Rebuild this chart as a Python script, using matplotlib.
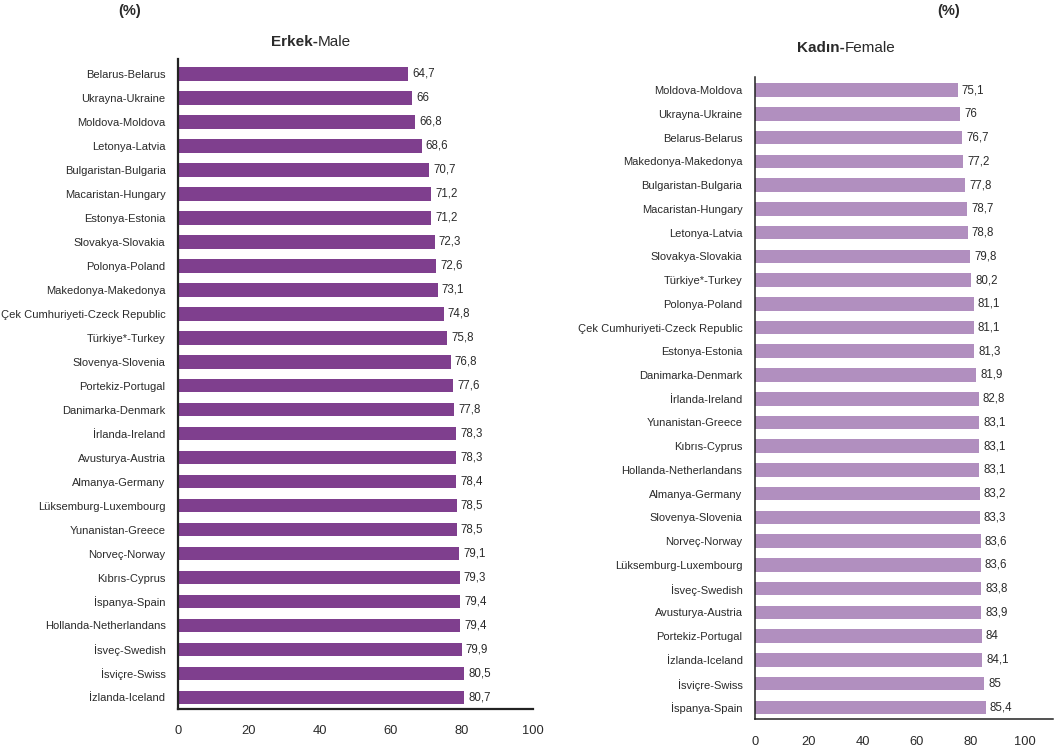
import numpy as np
import matplotlib
matplotlib.use('Agg')
import matplotlib.pyplot as plt

plt.rcParams['font.family'] = ['Liberation Sans', 'DejaVu Sans']

erkek_ulke = ['Belarus-Belarus', 'Ukrayna-Ukraine', 'Moldova-Moldova', 'Letonya-Latvia',
              'Bulgaristan-Bulgaria', 'Macaristan-Hungary', 'Estonya-Estonia', 'Slovakya-Slovakia',
              'Polonya-Poland', 'Makedonya-Makedonya', 'Çek Cumhuriyeti-Czeck Republic',
              'Türkiye*-Turkey', 'Slovenya-Slovenia', 'Portekiz-Portugal', 'Danimarka-Denmark',
              'İrlanda-Ireland', 'Avusturya-Austria', 'Almanya-Germany', 'Lüksemburg-Luxembourg',
              'Yunanistan-Greece', 'Norveç-Norway', 'Kıbrıs-Cyprus', 'İspanya-Spain',
              'Hollanda-Netherlandans', 'İsveç-Swedish', 'İsviçre-Swiss', 'İzlanda-Iceland']
erkek_deger = [64.7, 66, 66.8, 68.6, 70.7, 71.2, 71.2, 72.3, 72.6, 73.1, 74.8, 75.8, 76.8, 77.6,
               77.8, 78.3, 78.3, 78.4, 78.5, 78.5, 79.1, 79.3, 79.4, 79.4, 79.9, 80.5, 80.7]

kadin_ulke = ['Moldova-Moldova', 'Ukrayna-Ukraine', 'Belarus-Belarus', 'Makedonya-Makedonya',
              'Bulgaristan-Bulgaria', 'Macaristan-Hungary', 'Letonya-Latvia', 'Slovakya-Slovakia',
              'Türkiye*-Turkey', 'Polonya-Poland', 'Çek Cumhuriyeti-Czeck Republic',
              'Estonya-Estonia', 'Danimarka-Denmark', 'İrlanda-Ireland', 'Yunanistan-Greece',
              'Kıbrıs-Cyprus', 'Hollanda-Netherlandans', 'Almanya-Germany', 'Slovenya-Slovenia',
              'Norveç-Norway', 'Lüksemburg-Luxembourg', 'İsveç-Swedish', 'Avusturya-Austria',
              'Portekiz-Portugal', 'İzlanda-Iceland', 'İsviçre-Swiss', 'İspanya-Spain']
kadin_deger = [75.1, 76, 76.7, 77.2, 77.8, 78.7, 78.8, 79.8, 80.2, 81.1, 81.1, 81.3, 81.9, 82.8,
               83.1, 83.1, 83.1, 83.2, 83.3, 83.6, 83.6, 83.8, 83.9, 84, 84.1, 85, 85.4]

eksen_x = [0, 20, 40, 60, 80, 100]

W, H = 1054, 748
fig = plt.figure(figsize=(W / 100, H / 100), dpi=100)
yazi = '#2a2a2a'


def px_ax(x0, y0, x1, y1):
    return fig.add_axes([x0 / W, 1 - y1 / H, (x1 - x0) / W, (y1 - y0) / H])


def ciz(ax, ulke, deger, renk, xmax, ylim, lw, bosluk):
    y = np.arange(len(ulke))
    ax.barh(y, deger, height=0.57, color=renk)
    ax.set_yticks(y)
    ax.set_yticklabels(ulke, fontsize=8, color=yazi)
    ax.set_xticks(eksen_x)
    ax.set_xticklabels([str(v) for v in eksen_x], fontsize=9.3, color=yazi)
    ax.set_xlim(0, xmax)
    ax.set_ylim(*ylim)
    ax.tick_params(axis='y', length=0, pad=9)
    ax.tick_params(axis='x', length=0, pad=12)
    for s in ['top', 'right']:
        ax.spines[s].set_visible(False)
    for s in ['left', 'bottom']:
        ax.spines[s].set_color('#222222')
        ax.spines[s].set_linewidth(lw)
    for yi, v in zip(y, deger):
        ax.text(v + bosluk, yi, f'{v:g}'.replace('.', ','),
                va='center', ha='left', fontsize=8.3, color=yazi)


ax1 = px_ax(178, 59, 533, 708.7)
ciz(ax1, erkek_ulke, erkek_deger, '#7F3F8E', 100, (26.47, -0.62), 1.6, 1.2)

ax2 = px_ax(755, 77, 1053, 719.3)
ciz(ax2, kadin_ulke, kadin_deger, '#B18FBF', 110.4, (26.5, -0.55), 1.1, 1.5)

# basliklar
fig.text(318 / W, 1 - 41.5 / H, 'Erkek-', ha='right', va='center', fontsize=11, fontweight='bold', color=yazi)
fig.text(318 / W, 1 - 41.5 / H, 'Male', ha='left', va='center', fontsize=11, color=yazi)
fig.text(845 / W, 1 - 48 / H, 'Kadın-', ha='right', va='center', fontsize=11, fontweight='bold', color=yazi)
fig.text(845 / W, 1 - 48 / H, 'Female', ha='left', va='center', fontsize=11, color=yazi)
fig.text(130 / W, 1 - 11.5 / H, '(%)', ha='center', va='center', fontsize=10.5, fontweight='bold', color=yazi)
fig.text(949 / W, 1 - 11.5 / H, '(%)', ha='center', va='center', fontsize=10.5, fontweight='bold', color=yazi)

fig.savefig('out.png', dpi=100)
